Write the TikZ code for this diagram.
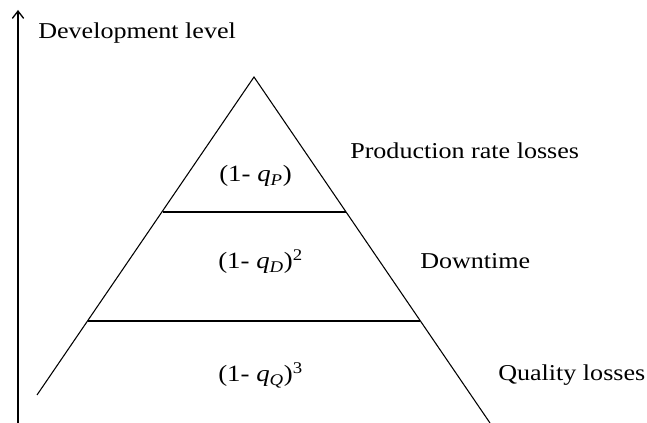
\documentclass[tikz,border=0pt]{standalone}
\usepackage{fontspec}
\setmainfont{Liberation Serif}[FakeStretch=1.15]
\usetikzlibrary{arrows.meta}
\begin{document}
\begin{tikzpicture}[x=0.75pt,y=-0.75pt,
  edge/.style={line width=0.8pt,black},
  lbl/.style={font=\fontsize{17}{20}\selectfont,inner sep=0pt,anchor=base west},
  mlbl/.style={font=\fontsize{17.5}{20}\selectfont,inner sep=0pt,anchor=base west}]
\useasboundingbox (0,0) rectangle (647,423);
% axis
\coordinate (ax0) at (18,423);
\coordinate (ax1) at (18,10);
\draw[edge,-{Straight Barb[length=5.5pt,width=8.5pt,line width=1pt]}] (ax0) -- (ax1);
\node[lbl] (dev) at (38,39) {Development level};
% pyramid
\coordinate (apex) at (254,77);
\coordinate (bl) at (37,395);
\coordinate (br) at (490,423);
\coordinate (l1a) at (163,212);
\coordinate (l1b) at (346,212);
\coordinate (l2a) at (88,321);
\coordinate (l2b) at (420,321);
\draw[edge] (bl) -- (apex) -- (br);
\draw[edge] (l1a) -- (l1b);
\draw[edge] (l2a) -- (l2b);
% labels
\node[mlbl] (qp) at (219,182) {(1- \textit{q}\textsubscript{\textit{P}})};
\node[mlbl] (qd) at (218,269) {(1- \textit{q}\textsubscript{\textit{D}})\textsuperscript{2}};
\node[mlbl] (qq) at (218,382) {(1- \textit{q}\textsubscript{\textit{Q}})\textsuperscript{3}};
\node[lbl] (prl) at (350,159) {Production rate losses};
\node[lbl] (dt) at (420,269) {Downtime};
\node[lbl] (ql) at (498,381) {Quality losses};
\end{tikzpicture}
\end{document}
